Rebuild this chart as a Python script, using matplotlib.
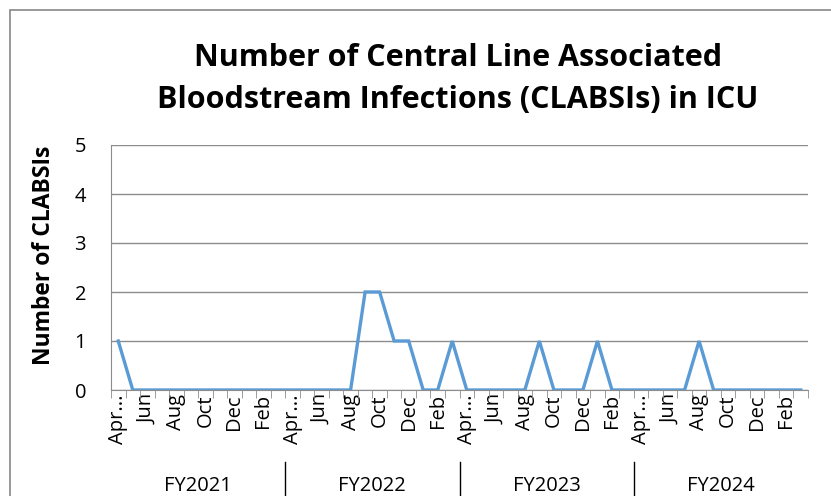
import numpy as np
import matplotlib.pyplot as plt
from matplotlib.patches import Rectangle
from matplotlib.transforms import blended_transform_factory

# monthly CLABSI counts, Apr FY2021 .. Mar FY2024
months = ["Apr...", "May", "Jun", "Jul", "Aug", "Sep", "Oct", "Nov", "Dec", "Jan", "Feb", "Mar"]
fiscal_years = ["FY2021", "FY2022", "FY2023", "FY2024"]
clabsi = [1, 0, 0, 0, 0, 0, 0, 0, 0, 0, 0, 0,
          0, 0, 0, 0, 0, 2, 2, 1, 1, 0, 0, 1,
          0, 0, 0, 0, 0, 1, 0, 0, 0, 1, 0, 0,
          0, 0, 0, 0, 1, 0, 0, 0, 0, 0, 0, 0]

FONT = "Open Sans"
W, H = 831, 496

fig = plt.figure(figsize=(W / 100, H / 100), dpi=100)
fig.patches.append(Rectangle((10 / W, -0.1), 1.2, (H - 10) / H + 0.1,
                             transform=fig.transFigure, fill=False,
                             edgecolor="#878787", linewidth=1.2))

ax = fig.add_axes([111 / W, 106 / H, 697 / W, 245 / H])
n = len(clabsi)
x = np.arange(n)
ax.plot(x, clabsi, color="#5B9BD5", linewidth=2.4, solid_joinstyle="miter")

ax.set_xlim(-0.5, n - 0.5)
ax.set_ylim(0, 5)
ax.set_yticks(range(6))
ax.set_yticklabels([str(v) for v in range(6)], fontsize=14.5, family=FONT)
ax.yaxis.grid(True, color="#8c8c8c", linewidth=1)
ax.set_axisbelow(True)
ax.tick_params(axis="y", length=0, pad=18)

for s in ["top", "right"]:
    ax.spines[s].set_visible(False)
ax.spines["left"].set_color("#8c8c8c")
ax.spines["bottom"].set_color("#8c8c8c")

labels = [months[i % 12] for i in range(n)]
ax.set_xticks(x[::2])
ax.set_xticklabels(labels[::2], rotation=90, fontsize=14.5, family=FONT)
ax.set_xticks(np.arange(-0.5, n), minor=True)
ax.tick_params(axis="x", which="major", length=0, pad=3)
ax.tick_params(axis="x", which="minor", length=6, color="#8c8c8c")

# fiscal year group labels and separators
tr = blended_transform_factory(ax.transData, fig.transFigure)
for k, fy in enumerate(fiscal_years):
    ax.text(12 * k + 5.5, 1 - 486 / H, fy, transform=tr,
            fontsize=14.5, family=FONT, ha="center", va="center")
for k in range(1, len(fiscal_years)):
    ax.plot([12 * k - 0.5] * 2, [1 - 462 / H, 0], color="black", linewidth=1,
            clip_on=False, transform=tr)

ax.set_ylabel("Number of CLABSIs", fontsize=16.5, fontweight="bold", family=FONT)
ax.yaxis.set_label_coords((56 - 111) / 697, (390 - 255) / 245)

fig.text(458 / W, 1 - 79 / H, "Number of Central Line Associated\nBloodstream Infections (CLABSIs) in ICU",
         ha="center", va="center", fontsize=22, fontweight="bold", family=FONT, linespacing=1.5)

fig.savefig("out.png", dpi=100)
